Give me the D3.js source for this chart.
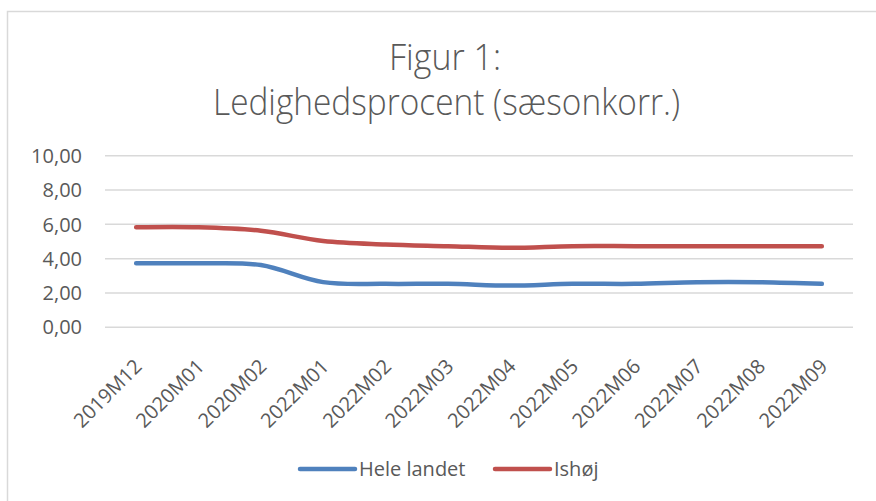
<!DOCTYPE html>
<html>
<head>
<meta charset="utf-8">
<script src="https://cdn.jsdelivr.net/npm/d3@7"></script>
<style>
  html, body { margin: 0; padding: 0; background: #fff; }
  svg { display: block; }
</style>
</head>
<body>
<svg id="chart" width="876" height="501"></svg>
<script>
const categories = ["2019M12","2020M01","2020M02","2022M01","2022M02","2022M03","2022M04","2022M05","2022M06","2022M07","2022M08","2022M09"];
const heleLandet = [3.7, 3.7, 3.6, 2.6, 2.5, 2.5, 2.4, 2.5, 2.5, 2.6, 2.6, 2.5];
const ishoj = [5.8, 5.8, 5.6, 5.0, 4.8, 4.7, 4.6, 4.7, 4.7, 4.7, 4.7, 4.7];
const yTicks = [0, 2, 4, 6, 8, 10];
const seriesNames = ["Hele landet", "Ishøj"];
const titleLines = ["Figur 1:", "Ledighedsprocent (sæsonkorr.)"];

const series = [
  { name: seriesNames[0], values: heleLandet, color: "#4F81BD" },
  { name: seriesNames[1], values: ishoj, color: "#C0504D" }
];

const svg = d3.select("#chart");
const font = "'Open Sans', 'Noto Sans', sans-serif";
const textColor = "#595959";

// chart border
svg.append("rect")
  .attr("x", 7.5).attr("y", 11.5)
  .attr("width", 900).attr("height", 520)
  .attr("fill", "#fff").attr("stroke", "#d9d9d9").attr("stroke-width", 1.5);

// title
const titleG = svg.append("g").attr("font-family", font).attr("fill", textColor)
  .attr("font-weight", 300).attr("text-anchor", "middle");
titleG.append("text").attr("x", 445).attr("y", 70).attr("font-size", 36)
  .attr("textLength", 112).attr("lengthAdjust", "spacingAndGlyphs").text(titleLines[0]);
titleG.append("text").attr("x", 446.5).attr("y", 115).attr("font-size", 36)
  .attr("textLength", 467).attr("lengthAdjust", "spacingAndGlyphs").text(titleLines[1]);

const plot = { left: 105, right: 853, top: 155.3, bottom: 326.7 };

const x = d3.scaleBand().domain(categories).range([plot.left, plot.right]).padding(0);
const y = d3.scaleLinear().domain([0, 10]).range([plot.bottom, plot.top]);

const fmt = v => d3.format(".2f")(v).replace(".", ",");

// gridlines
const yAxis = d3.axisLeft(y).tickValues(yTicks).tickFormat(fmt)
  .tickSize(-(plot.right - plot.left)).tickPadding(23);
const yG = svg.append("g").attr("transform", `translate(${plot.left},0)`).call(yAxis);
yG.select(".domain").remove();
yG.selectAll(".tick line").attr("stroke", "#d9d9d9").attr("stroke-width", 1.5);
yG.selectAll(".tick text").attr("font-family", font).attr("font-size", 20)
  .attr("fill", textColor).attr("dy", "0.36em");

// x axis labels
const xAxis = d3.axisBottom(x).tickSize(0);
const xG = svg.append("g").attr("transform", `translate(0,${plot.bottom})`).call(xAxis);
xG.select(".domain").remove();
xG.selectAll(".tick text")
  .attr("font-family", font).attr("font-size", 20).attr("fill", textColor)
  .attr("text-anchor", "end")
  .attr("y", 0).attr("dy", 0)
  .attr("transform", "translate(7,41) rotate(-45)");

// lines
const line = d3.line()
  .x((d, i) => x(categories[i]) + x.bandwidth() / 2)
  .y(d => y(d))
  .curve(d3.curveCatmullRom.alpha(0.5));

svg.append("g").selectAll("path").data(series).join("path")
  .attr("d", d => line(d.values))
  .attr("fill", "none")
  .attr("stroke", d => d.color)
  .attr("stroke-width", 4.5)
  .attr("stroke-linecap", "round")
  .attr("stroke-linejoin", "round");

// legend
const legendPos = [300, 495];
const lg = svg.append("g");
series.forEach((s, i) => {
  const g = lg.append("g").attr("transform", `translate(${legendPos[i]},469)`);
  g.append("line").attr("x1", 0).attr("x2", 55).attr("y1", 0).attr("y2", 0)
    .attr("stroke", s.color).attr("stroke-width", 4.5).attr("stroke-linecap", "round");
  g.append("text").attr("x", 59).attr("y", 0).attr("dy", "0.36em")
    .attr("font-family", font).attr("font-size", 20).attr("fill", textColor)
    .text(s.name);
});
</script>
</body>
</html>
